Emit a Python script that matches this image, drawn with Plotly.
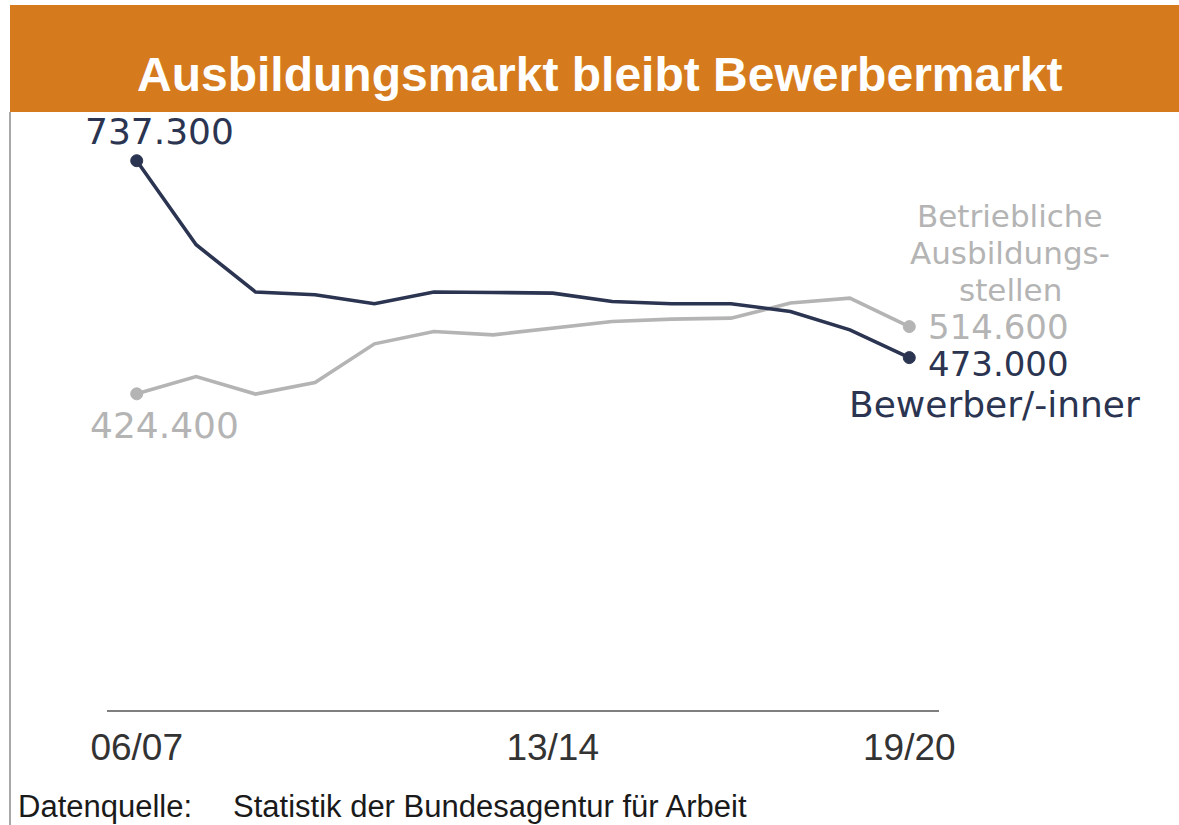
import plotly.graph_objects as go

# ---- data ----
seasons = ["06/07", "07/08", "08/09", "09/10", "10/11", "11/12", "12/13",
           "13/14", "14/15", "15/16", "16/17", "17/18", "18/19", "19/20"]
bewerber = [737300, 624500, 561000, 557300, 545300, 561000, 560400,
            559600, 548300, 545300, 545300, 534900, 510300, 473000]
stellen = [424400, 447600, 424000, 439600, 491500, 508100, 503600,
           513000, 521500, 524700, 526000, 546200, 552900, 514600]
tick_labels = ["06/07", "13/14", "19/20"]
title_text = "Ausbildungsmarkt bleibt Bewerbermarkt"
source_label = "Datenquelle:"
source_text = "Statistik der Bundesagentur für Arbeit"

DARK = "#2B3450"
GREY = "#B4B4B4"
ORANGE = "#D57B1D"

W, H = 1179, 825
ML, MR, MT, MB = 107, 240, 114, 115
PW, PH = W - ML - MR, H - MT - MB


def px(x):
    return (x - ML) / PW


def py(y):
    return (H - MB - y) / PH


n = len(seasons)
xs = list(range(n))
ends = [0, n - 1]

fig = go.Figure()
for vals, col in [(stellen, GREY), (bewerber, DARK)]:
    fig.add_trace(go.Scatter(x=xs, y=vals, mode="lines",
                             line=dict(color=col, width=3.6),
                             hoverinfo="skip", showlegend=False))
    fig.add_trace(go.Scatter(x=ends, y=[vals[i] for i in ends], mode="markers",
                             marker=dict(size=12, color=col, opacity=1,
                                         line=dict(width=1, color=col)),
                             hoverinfo="skip", showlegend=False))

LBL = "DejaVu Sans"
ann = []


def fmt(v):
    return f"{v:,}".replace(",", ".")


# value labels anchored to end points
ann.append(dict(x=0, y=bewerber[0], xref="x", yref="y", text=fmt(bewerber[0]),
                showarrow=False, xshift=23, yshift=29, borderpad=0,
                font=dict(family=LBL, size=36, color=DARK)))
ann.append(dict(x=0, y=stellen[0], xref="x", yref="y", text=fmt(stellen[0]),
                showarrow=False, xshift=28, yshift=-32, borderpad=0,
                font=dict(family=LBL, size=36, color=GREY)))
ann.append(dict(x=n - 1, y=stellen[-1], xref="x", yref="y", text=fmt(stellen[-1]),
                showarrow=False, xanchor="left", xshift=18, yshift=0, borderpad=0,
                font=dict(family=LBL, size=34, color=GREY)))
ann.append(dict(x=n - 1, y=bewerber[-1], xref="x", yref="y", text=fmt(bewerber[-1]),
                showarrow=False, xanchor="left", xshift=18, yshift=-6, borderpad=0,
                font=dict(family=LBL, size=34, color=DARK)))
ann.append(dict(x=n - 1, y=bewerber[-1], xref="x", yref="y", text="Bewerber/-inner",
                showarrow=False, xanchor="left", xshift=-61, yshift=-47, borderpad=0,
                font=dict(family=LBL, size=36, color=DARK)))
for i, line in enumerate(["Betriebliche", "Ausbildungs-", "stellen"]):
    ann.append(dict(x=n - 1, y=stellen[-1], xref="x", yref="y", text=line,
                    showarrow=False, xanchor="center", xshift=101,
                    yshift=111 - 37 * i, borderpad=0,
                    font=dict(family=LBL, size=31, color=GREY)))

# title
ann.append(dict(x=px(600), y=py(75), xref="paper", yref="paper", text=f"<b>{title_text}</b>",
                showarrow=False, xanchor="center", yanchor="middle",
                font=dict(family="Liberation Sans, Arial", size=48, color="white")))
# footer
ann.append(dict(x=px(17), y=py(825), xref="paper", yref="paper", text=source_label,
                showarrow=False, xanchor="left", yanchor="bottom", borderpad=0,
                font=dict(family="Liberation Sans, Arial", size=31, color="#1a1a1a")))
ann.append(dict(x=px(232), y=py(825), xref="paper", yref="paper", text=source_text,
                showarrow=False, xanchor="left", yanchor="bottom", borderpad=0,
                font=dict(family="Liberation Sans, Arial", size=31, color="#1a1a1a")))

shapes = [
    dict(type="rect", xref="paper", yref="paper", x0=px(10), x1=px(1185),
         y0=py(112), y1=py(5), fillcolor=ORANGE, line=dict(width=0), layer="below"),
    dict(type="line", xref="paper", yref="paper", x0=px(10), x1=px(10),
         y0=py(112), y1=py(830), line=dict(color="#A8A8A8", width=2)),
]

fig.update_layout(
    width=W, height=H,
    margin=dict(l=ML, r=MR, t=MT, b=MB),
    paper_bgcolor="white", plot_bgcolor="white",
    annotations=ann, shapes=shapes,
    xaxis=dict(range=[-0.5, n - 0.5], showgrid=False, zeroline=False,
               showline=True, linecolor="#7F7F7F", linewidth=2,
               tickmode="array", tickvals=[seasons.index(t) for t in tick_labels],
               ticktext=tick_labels, ticks="", ticklabelstandoff=4,
               tickfont=dict(family="Liberation Sans, Arial", size=37, color="#333333")),
    yaxis=dict(range=[0, 800000], visible=False, fixedrange=True),
)

fig.write_html("out.html")
